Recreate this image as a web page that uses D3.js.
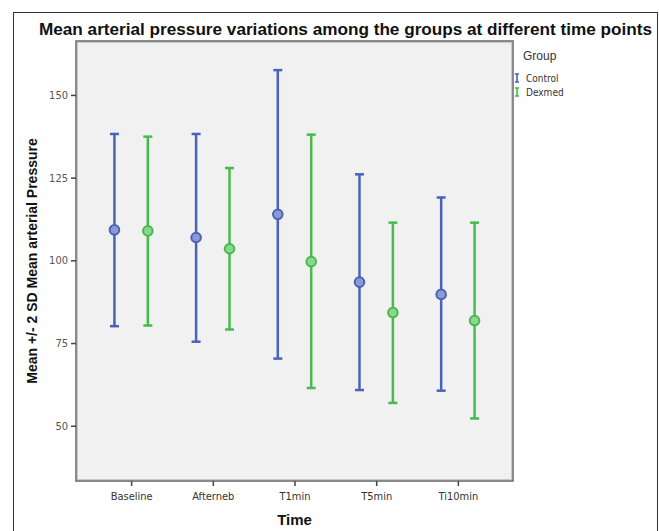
<!DOCTYPE html>
<html>
<head>
<meta charset="utf-8">
<script src="https://cdn.jsdelivr.net/npm/d3@7"></script>
<style>
  body { margin: 0; background: #fff; }
  svg { display: block; font-family: "Liberation Sans", Arial, sans-serif; }
</style>
</head>
<body>
<div id="chart"></div>
<script>
// DATA
// ------------------------------------------------------------------
var categories = ["Baseline", "Afterneb", "T1min", "T5min", "Ti10min"];
var groups = ["Control", "Dexmed"];

var controlMean = [109.2, 106.9, 113.9, 93.4, 89.7],
    controlLow  = [80.1, 75.4, 70.3, 60.8, 60.6],
    controlHigh = [138.2, 138.2, 157.5, 126.0, 119.0];

var dexmedMean = [108.9, 103.5, 99.6, 84.2, 81.8],
    dexmedLow  = [80.3, 79.1, 61.4, 56.9, 52.2],
    dexmedHigh = [137.4, 127.9, 138.0, 111.4, 111.4];

var yTicks = [50, 75, 100, 125, 150];

// CANVAS
// ------------------------------------------------------------------
var width = 659,
    height = 531;

var svg = d3.select("#chart")
    .append("svg")
    .attr("width", width)
    .attr("height", height);

// outer frame
svg.append("rect")
    .attr("x", 13.5).attr("y", 12.5)
    .attr("width", 644).attr("height", 530)
    .attr("fill", "#fff")
    .attr("stroke", "#333")
    .attr("stroke-width", 1);

var plot = { left: 76, top: 41, right: 513, bottom: 481 };

// plot background with a greyish double edge
svg.append("rect")
    .attr("x", plot.left).attr("y", plot.top)
    .attr("width", plot.right - plot.left)
    .attr("height", plot.bottom - plot.top)
    .attr("fill", "#f1f1f1")
    .attr("stroke", "#666")
    .attr("stroke-width", 1.5);
svg.append("rect")
    .attr("x", plot.left + 1.5).attr("y", plot.top + 1.5)
    .attr("width", plot.right - plot.left - 3)
    .attr("height", plot.bottom - plot.top - 3)
    .attr("fill", "none")
    .attr("stroke", "#c8c8c8")
    .attr("stroke-width", 1);

// AXES
// ------------------------------------------------------------------
var xScale = d3.scalePoint()
    .domain(categories)
    .range([plot.left, plot.right])
    .padding(0.675);

var groupOffset = d3.scalePoint()
    .domain(groups)
    .range([-16.7, 16.7]);

var yScale = d3.scaleLinear()
    .domain([33.3, 166.3])
    .range([plot.bottom, plot.top]);

var colors = { Control: "#4a62b8", Dexmed: "#45bb4a" };
var fills = { Control: "#8c9ad3", Dexmed: "#8fd492" };

var xAxis = d3.axisBottom(xScale).tickSize(5).tickPadding(6);
var yAxis = d3.axisLeft(yScale).tickValues(yTicks).tickSize(5).tickPadding(3);

var gx = svg.append("g")
    .attr("transform", "translate(0," + plot.bottom + ")")
    .call(xAxis);
gx.select(".domain").remove();
gx.selectAll("line").attr("stroke", "#444").attr("stroke-width", 1.5);
gx.selectAll("text")
    .attr("fill", "#333")
    .style("font-size", "11px")
    .style("font-family", "'DejaVu Sans Condensed', 'Liberation Sans Narrow', sans-serif");

var gy = svg.append("g")
    .attr("transform", "translate(" + plot.left + ",0)")
    .call(yAxis);
gy.select(".domain").remove();
gy.selectAll("line").attr("stroke", "#444").attr("stroke-width", 1.5);
gy.selectAll("text")
    .attr("fill", "#555")
    .style("font-size", "11px")
    .style("font-family", "'DejaVu Sans Condensed', 'Liberation Sans Narrow', sans-serif");

// axis titles
svg.append("text")
    .attr("transform", "translate(37," + ((plot.top + plot.bottom) / 2) + ") rotate(-90)")
    .style("text-anchor", "middle")
    .style("font-size", "14px")
    .style("font-weight", "bold")
    .attr("fill", "#111")
    .text("Mean +/- 2 SD Mean arterial Pressure");

svg.append("text")
    .attr("x", xScale("T1min"))
    .attr("y", 525)
    .style("text-anchor", "middle")
    .style("font-size", "15px")
    .style("font-weight", "bold")
    .attr("fill", "#111")
    .text("Time");

// TITLE
// ------------------------------------------------------------------
svg.append("text")
    .attr("x", 39)
    .attr("y", 35)
    .attr("textLength", 613)
    .attr("lengthAdjust", "spacingAndGlyphs")
    .style("font-size", "16px")
    .style("font-weight", "bold")
    .attr("fill", "#111")
    .text("Mean arterial pressure variations among the groups at different time points");

// ERROR BARS
// ------------------------------------------------------------------
var series = [
  { name: "Control", mean: controlMean, low: controlLow, high: controlHigh },
  { name: "Dexmed", mean: dexmedMean, low: dexmedLow, high: dexmedHigh }
];

var rows = [];
series.forEach(function(s) {
  categories.forEach(function(c, i) {
    rows.push({ group: s.name, cat: c, mean: s.mean[i], low: s.low[i], high: s.high[i] });
  });
});

function cx(d) { return xScale(d.cat) + groupOffset(d.group); }

var bars = svg.append("g").selectAll("g")
    .data(rows)
    .enter().append("g");

bars.append("line")
    .attr("x1", cx).attr("x2", cx)
    .attr("y1", function(d) { return yScale(d.low); })
    .attr("y2", function(d) { return yScale(d.high); })
    .attr("stroke", function(d) { return colors[d.group]; })
    .attr("stroke-width", 2.5);

["low", "high"].forEach(function(k) {
  bars.append("line")
      .attr("x1", function(d) { return cx(d) - 4.5; })
      .attr("x2", function(d) { return cx(d) + 4.5; })
      .attr("y1", function(d) { return yScale(d[k]); })
      .attr("y2", function(d) { return yScale(d[k]); })
      .attr("stroke", function(d) { return colors[d.group]; })
      .attr("stroke-width", 2.5);
});

bars.append("circle")
    .attr("cx", cx)
    .attr("cy", function(d) { return yScale(d.mean); })
    .attr("r", 4.8)
    .attr("fill", function(d) { return fills[d.group]; })
    .attr("stroke", function(d) { return colors[d.group]; })
    .attr("stroke-width", 2);

// LEGEND
// ------------------------------------------------------------------
svg.append("text")
    .attr("x", 523)
    .attr("y", 60)
    .style("font-size", "12px")
    .attr("fill", "#333")
    .text("Group");

var legend = svg.append("g").selectAll("g")
    .data(groups)
    .enter().append("g")
    .attr("transform", function(d, i) { return "translate(517," + (78 + i * 14) + ")"; });

legend.append("path")
    .attr("d", "M-2,-4H2M0,-4V4M-2,4H2")
    .attr("stroke", function(d) { return colors[d]; })
    .attr("stroke-width", 1.6)
    .attr("fill", "none");

legend.append("text")
    .attr("x", 9)
    .attr("y", 3.5)
    .style("font-size", "10px")
    .style("font-family", "'DejaVu Sans Condensed', 'Liberation Sans Narrow', sans-serif")
    .attr("fill", "#333")
    .text(function(d) { return d; });
</script>
</body>
</html>
